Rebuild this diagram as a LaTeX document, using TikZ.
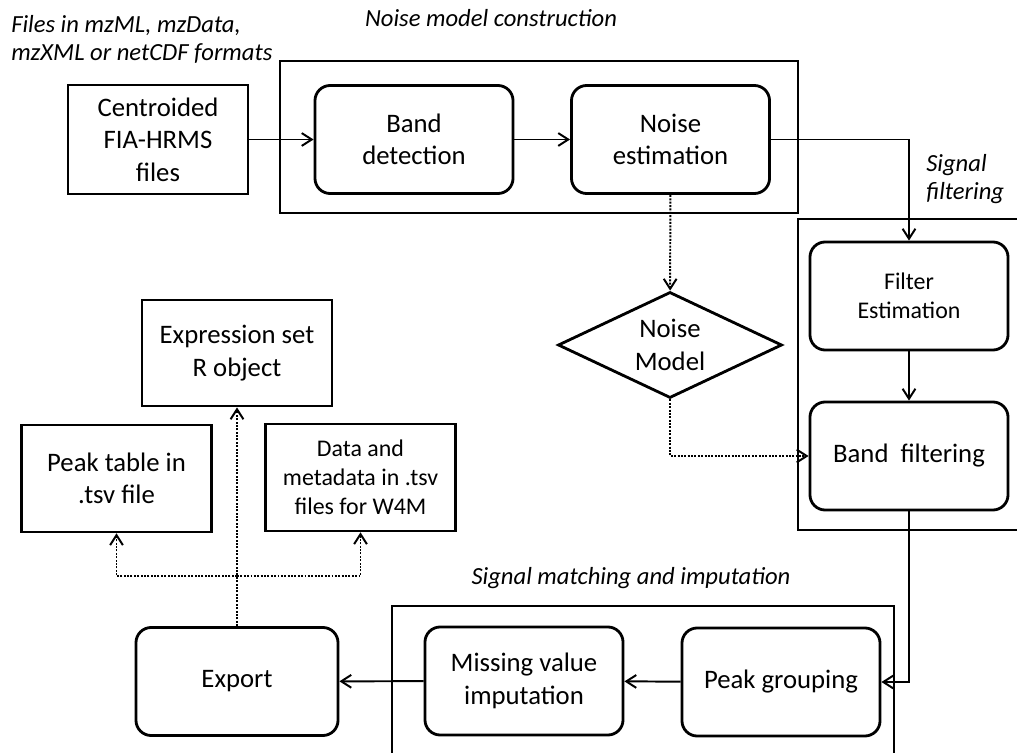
\documentclass[tikz,border=0pt]{standalone}
\usepackage{fontspec}
\setmainfont{Carlito}
\usetikzlibrary{arrows.meta,shapes.geometric}

\begin{document}
\begin{tikzpicture}[x=0.025cm,y=-0.025cm,
   >={Straight Barb[length=2.5mm,width=3.2mm]},
   every node/.style={font=\fontsize{19}{23}\selectfont,align=center,inner sep=0pt},
   procbox/.style={draw,rounded corners=0.38cm,line width=2pt,minimum width=4.95cm,minimum height=2.7cm},
   filebox/.style={draw,line width=2pt,minimum width=4.75cm,minimum height=2.67cm},
   smalltext/.style={font=\fontsize{17}{20.5}\selectfont},
   frame/.style={line width=2pt},
   flow/.style={->,line width=1.4pt},
   model/.style={->,line width=1.4pt,densely dotted},
   stage/.style={font=\fontsize{17.5}{20}\selectfont\itshape}]
   \useasboundingbox (0,0) rectangle (1017,753);

   % stages
   \draw[frame] (280,61) rectangle (798,213);
   \draw[frame] (798,219) rectangle (1040,530);
   \draw[frame] (392,606) rectangle (894,780);
   \node[stage,anchor=west,align=left] (inputlbl) at (11,39) {Files in mzML, mzData,\\mzXML or netCDF formats};
   \node[stage] (noiselbl) at (491,18) {Noise model construction};
   \node[stage,anchor=west,align=left] (filtlbl) at (926,179) {Signal\\filtering};
   \node[stage] (matchlbl) at (631,578) {Signal matching and imputation};

   % boxes
   \node[filebox,minimum width=4.5cm,minimum height=2.72cm] (files) at (158,139.5) {Centroided\\FIA-HRMS\\files};
   \node[procbox] (banddet) at (414,139.5) {Band\\detection};
   \node[procbox] (noiseest) at (670.5,139.5) {Noise\\estimation};
   \node[draw,diamond,aspect=2.1,line width=2pt,minimum width=5.6cm,minimum height=2.65cm] (noisemodel) at (670,345) {Noise\\Model};
   \node[procbox,smalltext] (filterest) at (909,296) {Filter\\Estimation};
   \node[procbox] (bandfilt) at (909,456) {Band\hspace{0.45em}filtering};
   \node[procbox] (peakgroup) at (781,682) {Peak grouping};
   \node[procbox] (missing) at (524,681) {Missing value\\imputation};
   \node[procbox,minimum width=5.05cm] (export) at (237,681.5) {Export};
   \node[filebox,minimum height=2.65cm] (exprset) at (237,353) {Expression set\\R object};
   \node[filebox] (peaktable) at (116.5,478.5) {Peak table in\\.tsv file};
   \node[filebox,smalltext] (datafiles) at (360.5,477.5) {Data and\\metadata in .tsv\\files for W4M};
   \coordinate (split) at (237,576);

   \draw[flow] (files) -- (banddet);
   \draw[flow] (banddet) -- (noiseest);
   \draw[flow] (noiseest.east) -| (filterest.north);
   \draw[flow] (filterest) -- (bandfilt);
   \draw[flow] (bandfilt.south) |- (peakgroup.east);
   \draw[flow] (peakgroup) -- (missing);
   \draw[flow] (missing) -- (export);
   \draw[model] (noiseest) -- (noisemodel);
   \draw[model] (noisemodel.south) |- (bandfilt.west);
   \draw[model] (export.north) -- (exprset.south);
   \draw[model] (split) -| (peaktable.south);
   \draw[model] (split) -| (datafiles.south);
\end{tikzpicture}
\end{document}
